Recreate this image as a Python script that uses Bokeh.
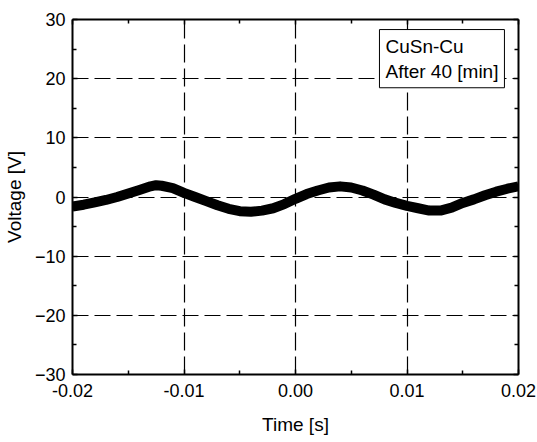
from bokeh.plotting import figure
from bokeh.models import (Range1d, FixedTicker, LinearAxis, Label, NumeralTickFormatter,
                          CustomLabelingPolicy)
from bokeh.embed import file_html
from bokeh.resources import INLINE

# Data (time in s, voltage in V)
time_s = [-0.020, -0.019, -0.018, -0.017, -0.016, -0.015, -0.014, -0.013, -0.0125, -0.012,
          -0.011, -0.010, -0.009, -0.008, -0.007, -0.006, -0.005, -0.004, -0.003, -0.002,
          -0.001, 0.000, 0.001, 0.002, 0.003, 0.004, 0.005, 0.006, 0.007, 0.008,
          0.009, 0.010, 0.011, 0.012, 0.013, 0.014, 0.015, 0.016, 0.017, 0.018,
          0.019, 0.020]
voltage = [-1.6, -1.3, -0.9, -0.5, 0.0, 0.6, 1.2, 1.8, 2.0, 1.9,
           1.5, 0.7, 0.0, -0.7, -1.4, -2.0, -2.4, -2.5, -2.3, -1.9,
           -1.2, -0.3, 0.5, 1.1, 1.6, 1.8, 1.6, 1.1, 0.4, -0.4,
           -1.0, -1.5, -1.9, -2.3, -2.3, -1.8, -1.0, -0.4, 0.3, 0.9,
           1.4, 1.8]

x_ticks = [-0.02, -0.01, 0.0, 0.01, 0.02]
x_minor = [-0.015, -0.005, 0.005, 0.015]
y_ticks = [-30, -20, -10, 0, 10, 20, 30]
y_minor = [-25, -15, -5, 5, 15, 25]
legend_text = "CuSn-Cu\nAfter 40 [min]"

FONT = "Liberation Sans"

p = figure(frame_width=446, frame_height=355, output_backend="svg", toolbar_location=None,
           x_range=Range1d(-0.02, 0.02), y_range=Range1d(-30, 30),
           min_border_left=72, min_border_right=19, min_border_top=19, min_border_bottom=68,
           x_axis_label="Time [s]", y_axis_label="Voltage [V]")
p.outline_line_color = None
p.background_fill_color = "white"
p.border_fill_color = "white"

xt = FixedTicker(ticks=x_ticks, minor_ticks=x_minor)
yt = FixedTicker(ticks=y_ticks, minor_ticks=y_minor)

for ax in p.xaxis:
    ax.ticker = xt
    ax.formatter = NumeralTickFormatter(format="0.00")
for ax in p.yaxis:
    ax.ticker = yt

NO_LABELS = CustomLabelingPolicy(code="""
if (indices != null && typeof indices.unset === 'function') {
  const all = (typeof indices.ones === 'function') ? [...indices.ones()] : [...indices]
  for (const i of all) indices.unset(i)
  return indices
}
return new Set()
""")

def style_axis(ax, labels=True):
    ax.axis_line_color = "black"
    ax.axis_line_width = 2
    ax.major_tick_in = 5
    ax.major_tick_out = 0
    ax.minor_tick_in = 4
    ax.minor_tick_out = 0
    ax.major_tick_line_color = "black"
    ax.major_tick_line_width = 1.5
    ax.minor_tick_line_color = "black"
    ax.minor_tick_line_width = 1.5
    ax.major_label_text_font = FONT
    ax.major_label_text_font_size = "18px"
    ax.major_label_text_color = "black"
    ax.axis_label_text_font = FONT
    ax.axis_label_text_font_size = "19px"
    ax.axis_label_text_font_style = "normal"
    ax.axis_label_text_color = "black"
    if not labels:
        ax.major_label_policy = NO_LABELS
        ax.major_label_standoff = 0

for ax in p.xaxis:
    style_axis(ax)
    ax.major_label_standoff = 9
    ax.axis_label_standoff = 14
for ax in p.yaxis:
    style_axis(ax)
    ax.major_label_standoff = 7
    ax.axis_label_standoff = 7

top = LinearAxis(ticker=xt, axis_label=None)
style_axis(top, labels=False)
p.add_layout(top, "above")
right = LinearAxis(ticker=yt, axis_label=None)
style_axis(right, labels=False)
p.add_layout(right, "right")

p.xgrid.ticker = xt
p.ygrid.ticker = yt
for g in (p.xgrid, p.ygrid):
    g.grid_line_color = "black"
    g.grid_line_width = 1.2
    g.grid_line_dash = "16 6"
p.xgrid.grid_line_dash = "18 6"

p.line(time_s, voltage, line_color="black", line_width=10, line_join="round")

lab = Label(x=0.00753, y=28.3, text=legend_text, text_font=FONT, text_font_size="19px",
            text_baseline="top", text_align="left", text_color="black",
            border_line_color="black", border_line_width=1,
            background_fill_color="white", padding=6)
p.add_layout(lab)

open("out.html", "w").write(file_html(p, INLINE))
